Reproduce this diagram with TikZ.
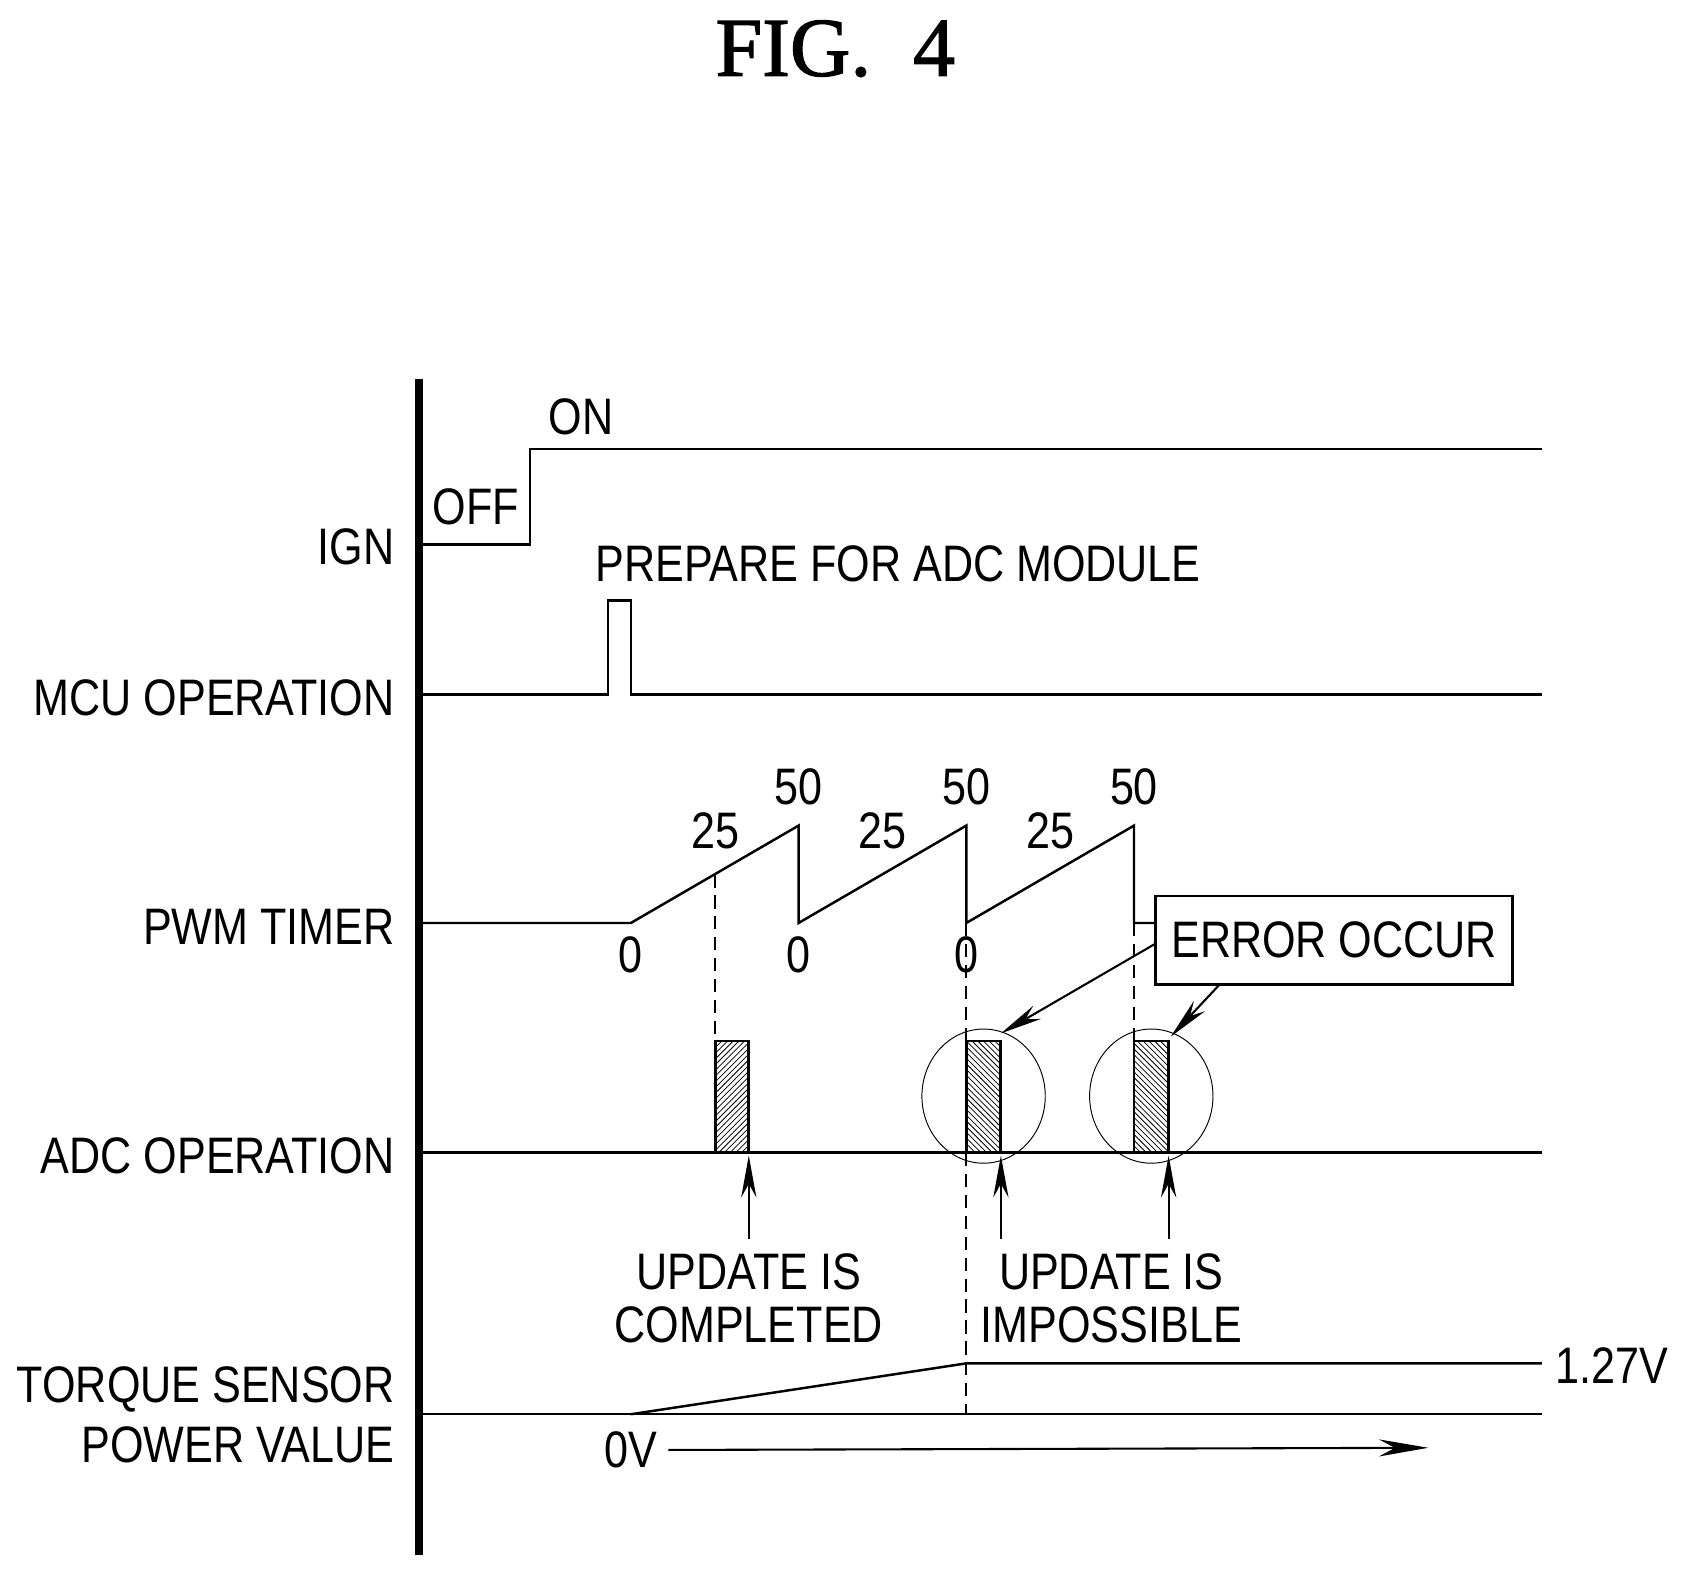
\documentclass[tikz,border=0pt]{standalone}
\usepackage{fontspec}
\setmainfont{Liberation Sans}[FakeStretch=0.84]
\newfontfamily\titlefont{Liberation Serif}[FakeBold=1.5]
\usetikzlibrary{arrows.meta,patterns}
\begin{document}
\begin{tikzpicture}[x=0.02cm,y=-0.02cm,
  sig/.style={line width=1.3pt},
  lab/.style={font=\fontsize{27}{30}\selectfont,inner sep=0pt},
  dsh/.style={line width=0.9pt,dash pattern=on 7pt off 4pt},
  arr/.style={line width=1.1pt,-{Stealth[length=22pt,width=8pt]}},
  bar/.style={line width=1.5pt}]
\useasboundingbox (0,0) rectangle (1560,1450);
\node[font=\titlefont\fontsize{44}{50}\selectfont] (title) at (772,45) {FIG.\enspace 4};
\draw[line width=4pt] (387,350) coordinate (ta) -- (387,1437) coordinate (tb);
% IGN
\draw[sig] (390,503) -- (490,503) -- (490,415) -- (1425,415);
\node[lab] (off) at (440,468) {OFF};
\node[lab] (on) at (537,385) {ON};
\node[lab,anchor=east] (ign) at (365,505) {IGN};
% MCU
\draw[sig] (390,642) -- (562,642) -- (562,555) -- (583,555) -- (583,642) -- (1425,642);
\node[lab] (prep) at (830,521) {PREPARE FOR ADC MODULE};
\node[lab,anchor=east] (mcu) at (365,645) {MCU OPERATION};
% PWM
\draw[sig] (390,853) -- (583,853) -- (738,763) -- (738,853) -- (893,763) -- (893,853) -- (1048,763) -- (1048,853) -- (1068,853);
\foreach \x in {583,738,893}{\node[lab] at (\x,882) {0};}
\foreach \x in {661,816,971}{\node[lab] at (\x,768) {25};}
\foreach \x in {738,893,1048}{\node[lab] at (\x,727) {50};}
\node[lab,anchor=east] (pwm) at (365,857) {PWM TIMER};
\draw[dsh] (661,808) -- (661,1065);
\draw[dsh] (893,853) -- (893,1307);
\draw[dsh] (1048,853) -- (1048,1065);
% ADC
\draw[sig] (390,1065) -- (1425,1065);
\node[lab,anchor=east] (adc) at (365,1068) {ADC OPERATION};
\draw[bar,pattern=north east lines] (661,1065) rectangle (692,962);
\draw[bar,pattern=north west lines] (893,1065) rectangle (925,962);
\draw[bar,pattern=north west lines] (1048,1065) rectangle (1080,962);
\draw[line width=0.5pt] (909,1013) ellipse [x radius=57,y radius=62];
\draw[line width=0.5pt] (1064,1013) ellipse [x radius=57,y radius=62];
\node[lab,draw,line width=1.3pt,minimum width=330*0.02cm,minimum height=82*0.02cm] (err) at (1233,869) {ERROR OCCUR};
\coordinate (e1) at (925,955);
\coordinate (e2) at (1082,958);
\draw[arr] (1068,872) -- (e1);
\draw[arr] (1127,910) -- (e2);
\foreach \x in {692,925,1080}{\draw[arr] (\x,1145) -- (\x,1068);}
\node[lab,align=center] (upc) at (692,1200) {UPDATE IS\\[-2pt]COMPLETED};
\node[lab,align=center] (upi) at (1027,1200) {UPDATE IS\\[-2pt]IMPOSSIBLE};
% Torque
\draw[sig] (390,1307) -- (1425,1307);
\draw[sig] (583,1307) -- (893,1260) -- (1425,1260);
\node[lab] (v127) at (1490,1262) {1.27V};
\node[lab] (v0) at (583,1340) {0V};
\coordinate (aend) at (1320,1338);
\draw[line width=1.1pt,-{Stealth[length=26pt,width=9pt]}] (v0.east) ++(10,0) -- (aend);
\node[lab,anchor=east] (ts1) at (365,1284) {TORQUE SENSOR};
\node[lab,anchor=east] (ts2) at (365,1335) {POWER VALUE};
\end{tikzpicture}
\end{document}
